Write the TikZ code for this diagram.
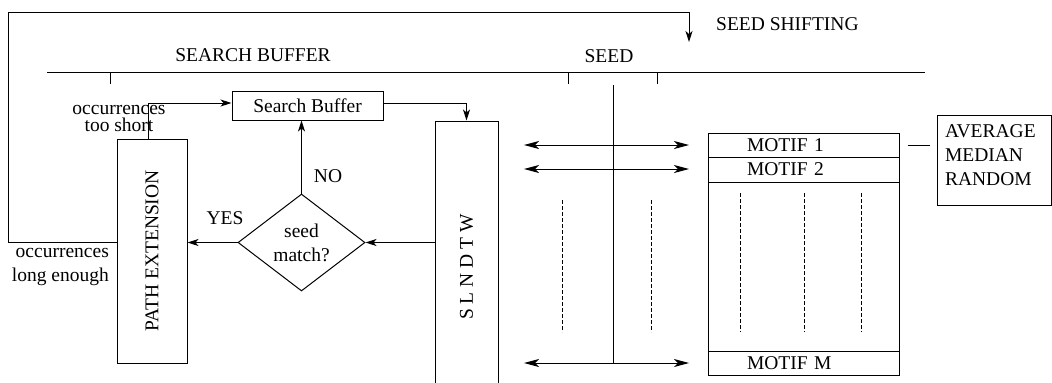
\documentclass[tikz,border=0pt]{standalone}
\usepackage{fontspec}
\setmainfont{Liberation Serif}
\usetikzlibrary{positioning,calc,arrows.meta,shapes.geometric}

\tikzset{
	every node/.style={font=\fontsize{9.75}{12}\selectfont},
	box/.style={draw,rectangle,inner sep=0pt},
	arr/.style={-{Stealth[length=5.5pt,width=3.5pt,inset=1.5pt]}},
	darr/.style={{Stealth[length=7.5pt,width=4pt,inset=2pt]}-{Stealth[length=7.5pt,width=4pt,inset=2pt]}},
	motifrow/.style={box,minimum width=95.5pt,minimum height=12pt,text width=56.5pt,inner xsep=19.5pt,align=left},
	fine dash/.style={dash pattern=on 1.75pt off 1.25pt}
}

\begin{document}
\begin{tikzpicture}[x=0.5pt,y=-0.5pt,line width=0.5pt]
		\useasboundingbox (0,0) rectangle (1052,382);
		
		% boxes
		\node[box,minimum width=75.5pt,minimum height=14.5pt] (sbuf) at (307.5,105.5) {Search Buffer};
		\node[box,minimum width=35pt,minimum height=112pt] (pathext) at (152,251) {\rotatebox{90}{PATH EXTENSION}};
		\node[box,minimum width=31.5pt,minimum height=146pt] (slndtw) at (466.5,267) {\rotatebox{90}{S L N D T W}};
		\node[draw,diamond,inner sep=0pt,minimum width=63.5pt,minimum height=48.5pt,align=center] (match) at (301.5,242.5) {seed\\match?};
		\node[box,minimum width=95.5pt,minimum height=121pt] (motifs) at (803.5,254) {};
		\node[motifrow] (motif1) at (803.5,145) {MOTIF 1};
		\node[motifrow,minimum height=12.5pt] (motif2) at (803.5,169.5) {MOTIF 2};
		\node[motifrow] (motifm) at (803.5,363) {MOTIF M};
		\node[box,minimum width=57pt,minimum height=45pt,text width=49pt,inner xsep=4pt,align=left] (avg) at (994,160) {AVERAGE\\MEDIAN\\RANDOM\\[-7.5pt]\mbox{}};
		
		% labels
		\node (no) at (253,55) {SEARCH BUFFER};
		\node (no) at (609,56) {SEED};
		\node[anchor=west] (shift) at (709,24) {SEED SHIFTING};
		\node[align=center] (short) at (119,118) {occurrences\\[-3.5pt]too short};
		\node[anchor=east,align=right] (long) at (116,267) {occurrences\\long enough};
		\node (yes) at (225,218) {YES};
		\node (nolab) at (328,176) {NO};
		
		% buffer line and ticks
		\draw (47,72) -- (925,72);
		\foreach \tx in {110,568,657}
			\draw (\tx,72) -- (\tx,84);
		\draw (613,85) -- (613,363);
		
		% flow
		\coordinate (shiftend) at (689,42);
		\draw[arr] (pathext.west |- match) -| (8,12) -| (shiftend);
		\draw[arr] ([xshift=-2pt]pathext.north) |- ([yshift=1.25pt]sbuf.west);
		\draw[arr] ([yshift=1.25pt]sbuf.east) -| (slndtw.north);
		\draw[arr] (slndtw.west |- match) -- (match.east);
		\draw[arr] (match.west) -- (pathext.east |- match);
		\draw[arr] (match.north) -- (match.north |- sbuf.south);
		
		% seed arrows
		\foreach \yy [count=\i] in {145,169,363}{
			\coordinate (la\i) at (524,\yy);
			\coordinate (ra\i) at (689,\yy);
			\draw[darr] (la\i) -- (ra\i);
		}
		\foreach \dx in {562,651}
			\draw[fine dash] (\dx,200) -- (\dx,332);
		\foreach \dx in {740,804,861}
			\draw[fine dash] (\dx,193) -- (\dx,332);
		
		\draw ([xshift=4pt]motif1.east) -- ([xshift=-3.5pt]avg.west |- motif1);
	\end{tikzpicture}
\end{document}
